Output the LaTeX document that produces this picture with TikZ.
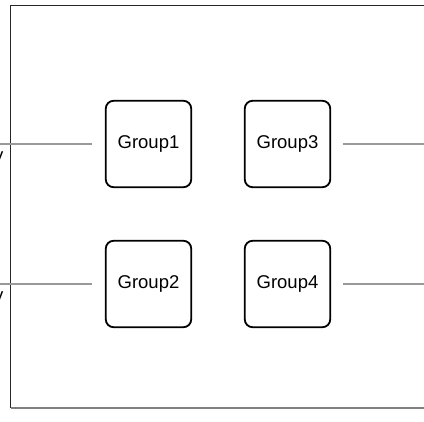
\documentclass[tikz,border=0pt]{standalone}
\usepackage{fontspec}
\setmainfont{Liberation Sans}
\usetikzlibrary{positioning}
\begin{document}
\begin{tikzpicture}[x=1pt,y=-1pt,
        groupbox/.style={draw,line width=1.8pt,rounded corners=8pt,
            minimum width=85.5pt,minimum height=86.5pt,inner sep=0pt,
            font=\fontsize{18.5}{21}\selectfont},
        wire/.style={draw=black!40,line width=1.2pt},
        cutlabel/.style={anchor=base east,inner sep=0pt,
            font=\fontsize{18.5}{21}\selectfont}]
        \useasboundingbox (0,0) rectangle (424,422);
        % frame, open to the right
        \draw[line width=1.5pt,draw=black!85] (440,5.5) -- (10.5,5.5) -- (10.5,408);
        \draw[line width=1.4pt,draw=black!50] (10.5,408) -- (440,408);
        \foreach \n/\x/\y in {1/148.5/144,2/148.5/284,3/287.5/144,4/287.5/284} {
            \node[groupbox] (g\n) at (\x,\y) {Group\n};
        }
        \coordinate (in1) at (-10,144);
        \coordinate (in2) at (-10,284);
        \coordinate (out3) at (440,144);
        \coordinate (out4) at (440,284);
        \draw[wire,shorten >=13pt] (in1) -- (g1);
        \draw[wire,shorten >=13pt] (in2) -- (g2);
        \draw[wire,shorten <=12pt] (g3) -- (out3);
        \draw[wire,shorten <=12pt] (g4) -- (out4);
        \node[cutlabel] (l1) at (3.5,162) {y};
        \node[cutlabel] (l2) at (3.5,302) {y};
\end{tikzpicture}
\end{document}
